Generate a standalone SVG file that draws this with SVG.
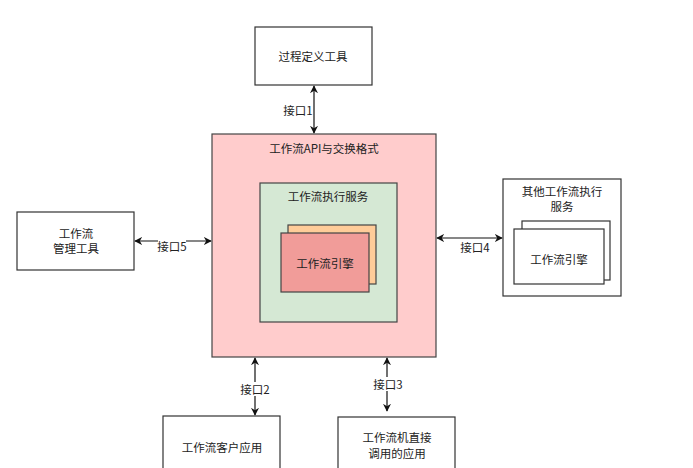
<svg xmlns="http://www.w3.org/2000/svg" width="693" height="468" viewBox="0 0 693 468">
<defs>
<marker id="ah" viewBox="0 0 10 10" refX="9" refY="5" markerWidth="8" markerHeight="8" orient="auto-start-reverse" markerUnits="userSpaceOnUse">
<path d="M0,0 L10,5 L0,10 L3,5 Z" fill="#111"/>
</marker>
</defs>
<style>
text{font-family:"Noto Sans CJK SC","Liberation Sans",sans-serif;font-size:11.5px;fill:#222;text-anchor:middle;dominant-baseline:central}
.box{fill:#fff;stroke:#333;stroke-width:1.2}
.conn{stroke:#111;stroke-width:1.2;fill:none;marker-start:url(#ah);marker-end:url(#ah)}
.lbl{fill:#fff}
</style>
<rect width="693" height="468" fill="#fff"/>
<g id="api">
<rect x="212" y="134" width="224" height="223" fill="#FFCCCC" stroke="#444" stroke-width="1.2"/>
<text x="324" y="148">工作流API与交换格式</text>
</g>
<g id="exec">
<rect x="260" y="183" width="137" height="139" fill="#D5E8D4" stroke="#444" stroke-width="1.2"/>
<text x="328" y="196">工作流执行服务</text>
</g>
<g id="engine">
<rect x="288" y="225" width="88" height="59" fill="#FFCC99" stroke="#444" stroke-width="1.2"/>
<rect x="281" y="233" width="88" height="59" fill="#F19C99" stroke="#444" stroke-width="1.2"/>
<text x="325" y="263">工作流引擎</text>
</g>
<g id="define">
<rect class="box" x="255" y="27" width="117" height="58"/>
<text x="313" y="56">过程定义工具</text>
</g>
<g id="manage">
<rect class="box" x="17" y="212" width="117" height="58"/>
<text x="76" y="233">工作流</text>
<text x="76" y="248">管理工具</text>
</g>
<g id="other">
<rect class="box" x="503" y="179" width="118" height="117"/>
<text x="562" y="191">其他工作流执行</text>
<text x="562" y="206">服务</text>
<rect class="box" x="522" y="221" width="88" height="59"/>
<rect class="box" x="514" y="229" width="90" height="55"/>
<text x="559" y="259">工作流引擎</text>
</g>
<g id="client">
<rect class="box" x="163" y="416" width="117" height="70"/>
<text x="222" y="447">工作流客户应用</text>
</g>
<g id="direct">
<rect class="box" x="338" y="417" width="117" height="70"/>
<text x="397" y="437">工作流机直接</text>
<text x="397" y="453">调用的应用</text>
</g>
<g id="connectors">
<line class="conn" x1="314" y1="86" x2="314" y2="133"/>
<text x="298" y="110">接口1</text>
<line class="conn" x1="135" y1="241" x2="211" y2="241"/>
<rect class="lbl" x="158" y="240" width="28" height="13"/>
<text x="172" y="246">接口5</text>
<line class="conn" x1="437" y1="238" x2="502" y2="238"/>
<text x="475" y="247">接口4</text>
<line class="conn" x1="255" y1="358" x2="255" y2="415"/>
<rect class="lbl" x="241" y="382" width="29" height="14"/>
<text x="255" y="389">接口2</text>
<line class="conn" x1="387" y1="358" x2="387" y2="411"/>
<rect class="lbl" x="374" y="377" width="29" height="14"/>
<text x="388" y="384">接口3</text>
</g>
</svg>
